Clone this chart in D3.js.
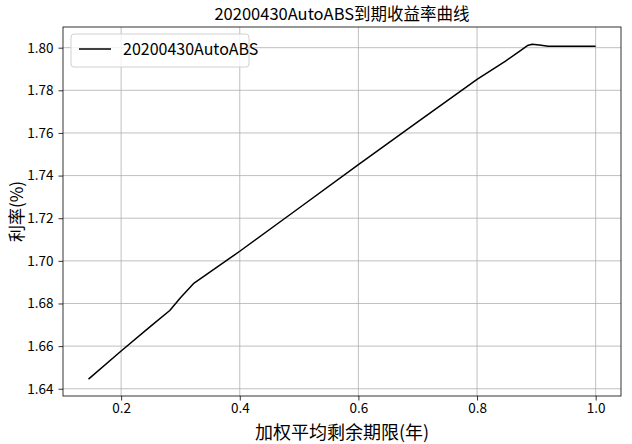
<!DOCTYPE html>
<html><head><meta charset="utf-8">
<script src="https://cdn.jsdelivr.net/npm/d3@7"></script>
<style>
body{margin:0;background:#fff;}
svg{display:block;font-family:"Noto Sans CJK SC","DejaVu Sans",sans-serif;}
</style></head><body>
<script>
const seriesName = "20200430AutoABS";
const xValues = [0.145, 0.2, 0.25, 0.282, 0.30, 0.323, 0.4, 0.5, 0.6, 0.7, 0.8, 0.848, 0.872, 0.885, 0.893, 0.905, 0.92, 0.95, 1.0];
const yValues = [1.6445, 1.6577, 1.6694, 1.6767, 1.6827, 1.6896, 1.7045, 1.7248, 1.7451, 1.7652, 1.7851, 1.7937, 1.7984, 1.8010, 1.8016, 1.8013, 1.8007, 1.8007, 1.8007];
const xTicks = [0.2, 0.4, 0.6, 0.8, 1.0];
const yTicks = [1.64, 1.66, 1.68, 1.70, 1.72, 1.74, 1.76, 1.78, 1.80];
const title = "20200430AutoABS到期收益率曲线";
const xLabel = "加权平均剩余期限(年)";
const yLabel = "利率(%)";

const W = 632, H = 444;
const m = {left: 63, right: 11, top: 27, bottom: 48};
const svg = d3.select("body").append("svg").attr("width", W).attr("height", H);
const iw = W - m.left - m.right, ih = H - m.top - m.bottom;
const g = svg.append("g").attr("transform", `translate(${m.left},${m.top})`);

const x = d3.scaleLinear().domain([0.1020, 1.0427]).range([0, iw]);
const y = d3.scaleLinear().domain([1.6366, 1.8097]).range([ih, 0]);

// grid
g.append("g").selectAll("line").data(xTicks).join("line")
  .attr("x1", d => x(d)).attr("x2", d => x(d)).attr("y1", 0).attr("y2", ih)
  .attr("stroke", "#b0b0b0").attr("stroke-width", 0.8);
g.append("g").selectAll("line").data(yTicks).join("line")
  .attr("y1", d => y(d)).attr("y2", d => y(d)).attr("x1", 0).attr("x2", iw)
  .attr("stroke", "#b0b0b0").attr("stroke-width", 0.8);

// axes
const xAxis = g.append("g").attr("transform", `translate(0,${ih})`)
  .call(d3.axisBottom(x).tickValues(xTicks).tickFormat(d3.format(".1f")).tickSizeOuter(0).tickSize(4.5).tickPadding(3));
const yAxis = g.append("g")
  .call(d3.axisLeft(y).tickValues(yTicks).tickFormat(d3.format(".2f")).tickSizeOuter(0).tickSize(4.5).tickPadding(5));
[xAxis, yAxis].forEach(a => {
  a.select(".domain").remove();
  a.selectAll("text").attr("font-size", 13.5).attr("fill", "#000").attr("font-family", "'Noto Sans CJK SC'");
  a.selectAll("line").attr("stroke", "#000").attr("stroke-width", 0.8);
});

// line
const data = xValues.map((d, i) => [d, yValues[i]]);
g.append("path").datum(data)
  .attr("fill", "none").attr("stroke", "#000").attr("stroke-width", 1.5)
  .attr("stroke-linejoin", "round")
  .attr("d", d3.line().x(d => x(d[0])).y(d => y(d[1])));

// frame
g.append("rect").attr("width", iw).attr("height", ih).attr("fill", "none").attr("stroke", "#000").attr("stroke-width", 0.8);

// legend
const lg = g.append("g").attr("transform", "translate(8,7)");
lg.append("rect").attr("width", 178).attr("height", 33).attr("rx", 3)
  .attr("fill", "#fff").attr("fill-opacity", 0.8).attr("stroke", "#d0d0d0").attr("stroke-width", 1);
lg.append("line").attr("x1", 8).attr("x2", 40).attr("y1", 15).attr("y2", 15)
  .attr("stroke", "#000").attr("stroke-width", 1.5);
lg.append("text").attr("x", 52).attr("y", 21).attr("font-size", 16).text(seriesName);

// titles
svg.append("text").attr("x", m.left + iw / 2).attr("y", 20).attr("text-anchor", "middle")
  .attr("font-size", 16.5).text(title);
svg.append("text").attr("x", m.left + iw / 2).attr("y", 439).attr("text-anchor", "middle")
  .attr("font-size", 18).text(xLabel);
svg.append("text").attr("transform", `translate(23,${m.top + ih / 2}) rotate(-90)`).attr("text-anchor", "middle")
  .attr("font-size", 17).text(yLabel);
</script>
</body></html>
